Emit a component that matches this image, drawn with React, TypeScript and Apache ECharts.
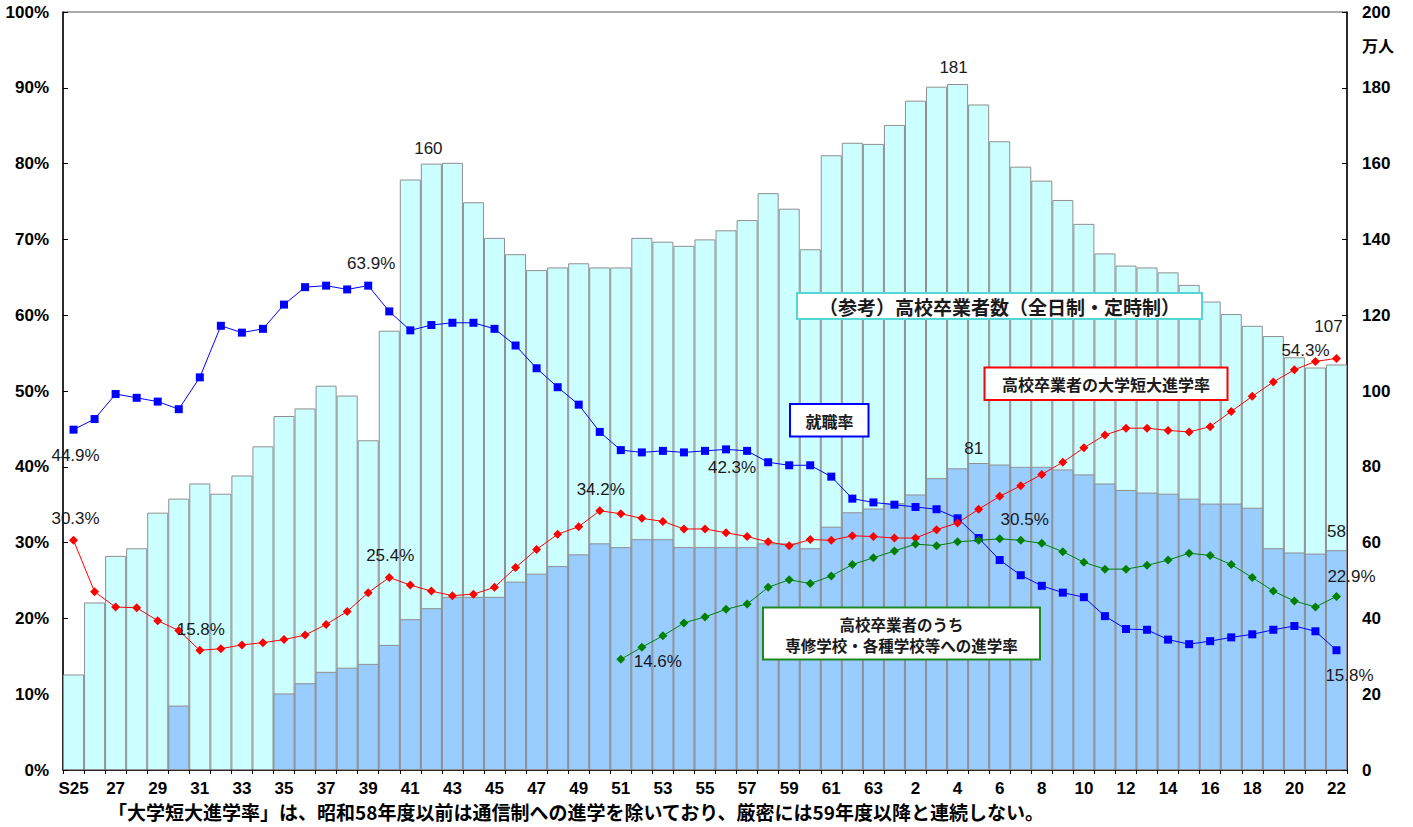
import React, { useEffect, useRef } from "react";
import * as echarts from "echarts";

// 年度（昭和25年〜平成22年）
const categories = [
  "S25", "26", "27", "28", "29", "30", "31", "32", "33", "34",
  "35", "36", "37", "38", "39", "40", "41", "42", "43", "44",
  "45", "46", "47", "48", "49", "50", "51", "52", "53", "54",
  "55", "56", "57", "58", "59", "60", "61", "62", "63",
  "元", "2", "3", "4", "5", "6", "7", "8", "9", "10",
  "11", "12", "13", "14", "15", "16", "17", "18", "19", "20",
  "21", "22",
];

// 高校卒業者数（全日制・定時制）, 万人
const graduates = [
  25.2, 44.2, 56.5, 58.5, 67.9, 71.6, 75.6, 72.9, 77.7, 85.4,
  93.4, 95.4, 101.4, 98.8, 87.0, 115.9, 155.8, 160, 160.2, 149.8,
  140.4, 136.1, 131.9, 132.6, 133.7, 132.6, 132.6, 140.4, 139.4, 138.3,
  140.0, 142.4, 145.1, 152.2, 148.1, 137.4, 162.2, 165.5, 165.2,
  170.2, 176.6, 180.3, 181, 175.6, 165.9, 159.2, 155.5, 150.4, 144.1,
  136.3, 133.1, 132.6, 131.3, 128.0, 123.6, 120.3, 117.2, 114.5, 108.9,
  106.2, 107,
];

// 大学・短大進学者数, 万人
const entrants = [
  null, null, null, null, null, 17.0, null, null, null, null,
  20.2, 22.9, 25.9, 27.0, 28.0, 33.0, 39.8, 42.7, 45.7, 45.7,
  45.7, 49.7, 51.8, 53.8, 56.9, 59.8, 58.8, 60.9, 60.9, 58.8,
  58.8, 58.8, 58.8, 59.8, 59.8, 58.5, 64.2, 68.0, 69.0,
  70.4, 72.7, 77.0, 79.6, 81, 80.6, 80.0, 80.0, 79.3, 78.0,
  75.6, 73.9, 73.2, 72.9, 71.6, 70.3, 70.3, 69.2, 58.5, 57.4,
  57.1, 58,
];

// 就職率, %
const employmentRate = [
  44.9, 46.3, 49.6, 49.1, 48.6, 47.6, 51.8, 58.6, 57.7, 58.2,
  61.4, 63.7, 63.9, 63.4, 63.9, 60.5, 58.0, 58.7, 59.0, 59.0,
  58.2, 56.0, 53.0, 50.5, 48.2, 44.6, 42.2, 41.9, 42.1, 41.9,
  42.1, 42.3, 42.1, 40.6, 40.2, 40.2, 38.7, 35.8, 35.3,
  35.0, 34.7, 34.4, 33.2, 30.6, 27.7, 25.7, 24.3, 23.4, 22.8,
  20.3, 18.6, 18.5, 17.2, 16.6, 17.0, 17.5, 17.9, 18.5, 19.0,
  18.3, 15.8,
];

// 高校卒業者の大学短大進学率, %
const universityRate = [
  30.3, 23.5, 21.5, 21.4, 19.7, 18.4, 15.8, 16.0, 16.5, 16.8,
  17.2, 17.8, 19.2, 20.9, 23.4, 25.4, 24.4, 23.6, 23.0, 23.2,
  24.1, 26.7, 29.1, 31.1, 32.1, 34.2, 33.8, 33.2, 32.8, 31.8,
  31.8, 31.3, 30.8, 30.1, 29.6, 30.4, 30.3, 30.9, 30.8,
  30.6, 30.6, 31.7, 32.6, 34.4, 36.1, 37.5, 39.0, 40.6, 42.5,
  44.2, 45.1, 45.1, 44.8, 44.6, 45.3, 47.3, 49.3, 51.2, 52.8,
  53.9, 54.3,
];

// 専修学校・各種学校等への進学率, %
const vocationalRate = [
  null, null, null, null, null, null, null, null, null, null,
  null, null, null, null, null, null, null, null, null, null,
  null, null, null, null, null, null, 14.6, 16.2, 17.7, 19.4,
  20.2, 21.2, 21.9, 24.1, 25.1, 24.6, 25.6, 27.1, 28.0,
  28.9, 29.8, 29.6, 30.1, 30.3, 30.5, 30.3, 29.9, 28.8, 27.4,
  26.5, 26.5, 27.0, 27.7, 28.6, 28.3, 27.1, 25.4, 23.6, 22.3,
  21.5, 22.9,
];

// Value labels: category index -> label offset [dx, dy]
const graduateLabels: Record<number, [number, number]> = { 17: [-3, -2], 42: [-4, -3], 60: [-8, -24] };
const entrantLabels: Record<number, [number, number]> = { 43: [-5, -1], 60: [0, -5] };
const employmentLabels: Record<number, [number, number]> = { 0: [2, 26], 14: [3, -22], 31: [6, 18], 60: [13, 25] };
const universityLabels: Record<number, [number, number]> = { 0: [2, -22], 6: [1, -21], 15: [1, -22], 25: [1, -21], 60: [-31, -8] };
const vocationalLabels: Record<number, [number, number]> = { 26: [37, 2], 44: [25, -19], 60: [15, -20] };

const NUM_FONT = "'Liberation Sans', Arial, sans-serif";
const JP_FONT = "'Noto Sans CJK JP', sans-serif";

const withLabels = (
  values: (number | null)[],
  labels: Record<number, [number, number]>,
  position: string,
  formatter: (v: number) => string
) =>
  values.map((v, i) =>
    labels[i] && v !== null
      ? {
          value: v,
          label: {
            show: true,
            position,
            distance: 5,
            offset: labels[i],
            formatter: () => formatter(v),
            fontFamily: NUM_FONT,
            fontSize: 17,
            color: "#1a1a1a",
          },
        }
      : v
  );

const pct = (v: number) => v.toFixed(1) + "%";
const num = (v: number) => String(Math.round(v));

const boxText = (text: string, x: number, y: number, size: number) => ({
  type: "text",
  z: 101,
  style: {
    text,
    x,
    y,
    fill: "#1a1a1a",
    font: `bold ${size}px ${JP_FONT}`,
    textAlign: "center",
    textVerticalAlign: "middle",
    align: "center",
    verticalAlign: "middle",
  },
});

const boxRect = (x: number, y: number, w: number, h: number, stroke: string) => ({
  type: "rect",
  z: 100,
  shape: { x, y, width: w, height: h },
  style: { fill: "#ffffff", stroke, lineWidth: 2 },
});

export default function App() {
  const ref = useRef<HTMLDivElement>(null);

  useEffect(() => {
    if (!ref.current) return;
    const chart = echarts.init(ref.current, null, { renderer: "svg" });

    const axisLabelStyle = {
      fontFamily: NUM_FONT,
      fontSize: 17,
      fontWeight: "bold" as const,
      color: "#000",
    };

    chart.setOption({
      animation: false,
      backgroundColor: "#ffffff",
      grid: {
        left: 63,
        right: 66,
        top: 12,
        bottom: 57,
        show: true,
        borderColor: "#555",
        borderWidth: 1,
        backgroundColor: "transparent",
      },
      xAxis: {
        type: "category",
        data: categories,
        boundaryGap: true,
        axisLine: { show: true, lineStyle: { color: "#000", width: 1.5 } },
        axisTick: { show: true, interval: 0, length: 4, lineStyle: { color: "#000" } },
        axisLabel: { ...axisLabelStyle, interval: 1, margin: 10 },
        splitLine: { show: false },
      },
      yAxis: [
        {
          type: "value",
          position: "left",
          min: 0,
          max: 100,
          interval: 10,
          axisLine: { show: true, lineStyle: { color: "#000", width: 1.5 } },
          axisTick: { show: true, inside: true, length: 5, lineStyle: { color: "#000" } },
          axisLabel: { ...axisLabelStyle, formatter: "{value}%", margin: 14 },
          splitLine: { show: false },
        },
        {
          type: "value",
          position: "right",
          min: 0,
          max: 200,
          interval: 20,
          axisLine: { show: true, lineStyle: { color: "#000", width: 1.5 } },
          axisTick: { show: true, inside: true, length: 5, lineStyle: { color: "#000" } },
          axisLabel: { ...axisLabelStyle, margin: 15 },
          splitLine: { show: false },
        },
      ],
      series: [
        {
          name: "高校卒業者数",
          type: "bar",
          yAxisIndex: 1,
          barWidth: "100%",
          barGap: "-100%",
          itemStyle: { color: "#CCFFFF", borderColor: "#8f8f8f", borderWidth: 1 },
          data: withLabels(graduates, graduateLabels, "top", num),
          z: 1,
        },
        {
          name: "大学短大進学者数",
          type: "bar",
          yAxisIndex: 1,
          barWidth: "100%",
          barGap: "-100%",
          itemStyle: { color: "#99CCFF", borderColor: "#8f8f8f", borderWidth: 1 },
          data: withLabels(entrants, entrantLabels, "top", num),
          z: 1,
        },
        {
          name: "就職率",
          type: "line",
          yAxisIndex: 0,
          symbol: "rect",
          symbolSize: 8,
          showAllSymbol: true,
          lineStyle: { color: "#0000FF", width: 1 },
          itemStyle: { color: "#0000FF" },
          data: withLabels(employmentRate, employmentLabels, "inside", pct),
          z: 5,
        },
        {
          name: "大学短大進学率",
          type: "line",
          yAxisIndex: 0,
          symbol: "diamond",
          symbolSize: 9,
          showAllSymbol: true,
          lineStyle: { color: "#FF0000", width: 1 },
          itemStyle: { color: "#FF0000" },
          data: withLabels(universityRate, universityLabels, "inside", pct),
          z: 5,
        },
        {
          name: "専修学校・各種学校等への進学率",
          type: "line",
          yAxisIndex: 0,
          symbol: "diamond",
          symbolSize: 9,
          showAllSymbol: true,
          connectNulls: false,
          lineStyle: { color: "#008000", width: 1 },
          itemStyle: { color: "#008000" },
          data: withLabels(vocationalRate, vocationalLabels, "inside", pct),
          z: 5,
        },
      ],
      graphic: [
        boxRect(797, 293, 405, 26, "#55D5D5"),
        boxText("（参考）高校卒業者数（全日制・定時制）", 999.5, 306, 19),
        boxRect(984.5, 367.5, 243, 32.5, "#FF0000"),
        boxText("高校卒業者の大学短大進学率", 1106, 384, 16),
        boxRect(790, 404, 78.5, 32.5, "#0000FF"),
        boxText("就職率", 829.5, 420.5, 16),
        boxRect(763, 607.5, 277, 52, "#1E8A1E"),
        boxText("高校卒業者のうち", 901.5, 623.5, 15.5),
        boxText("専修学校・各種学校等への進学率", 901.5, 645, 15.5),
        {
          type: "text",
          z: 101,
          style: {
            text: "万人",
            x: 1362,
            y: 45,
            fill: "#000",
            font: `bold 16px ${JP_FONT}`,
            textAlign: "left",
            textVerticalAlign: "middle",
            align: "left",
            verticalAlign: "middle",
          },
        },
        {
          type: "text",
          z: 101,
          style: {
            text: "「大学短大進学率」は、昭和58年度以前は通信制への進学を除いており、厳密には59年度以降と連続しない。",
            x: 108,
            y: 811,
            fill: "#000",
            font: `bold 19px ${JP_FONT}`,
            textAlign: "left",
            textVerticalAlign: "middle",
            align: "left",
            verticalAlign: "middle",
          },
        },
      ],
    });

    return () => chart.dispose();
  }, []);

  return (
    <div
      ref={ref}
      style={{ position: "fixed", left: 0, top: 0, width: 1413, height: 827, background: "#fff" }}
    />
  );
}
